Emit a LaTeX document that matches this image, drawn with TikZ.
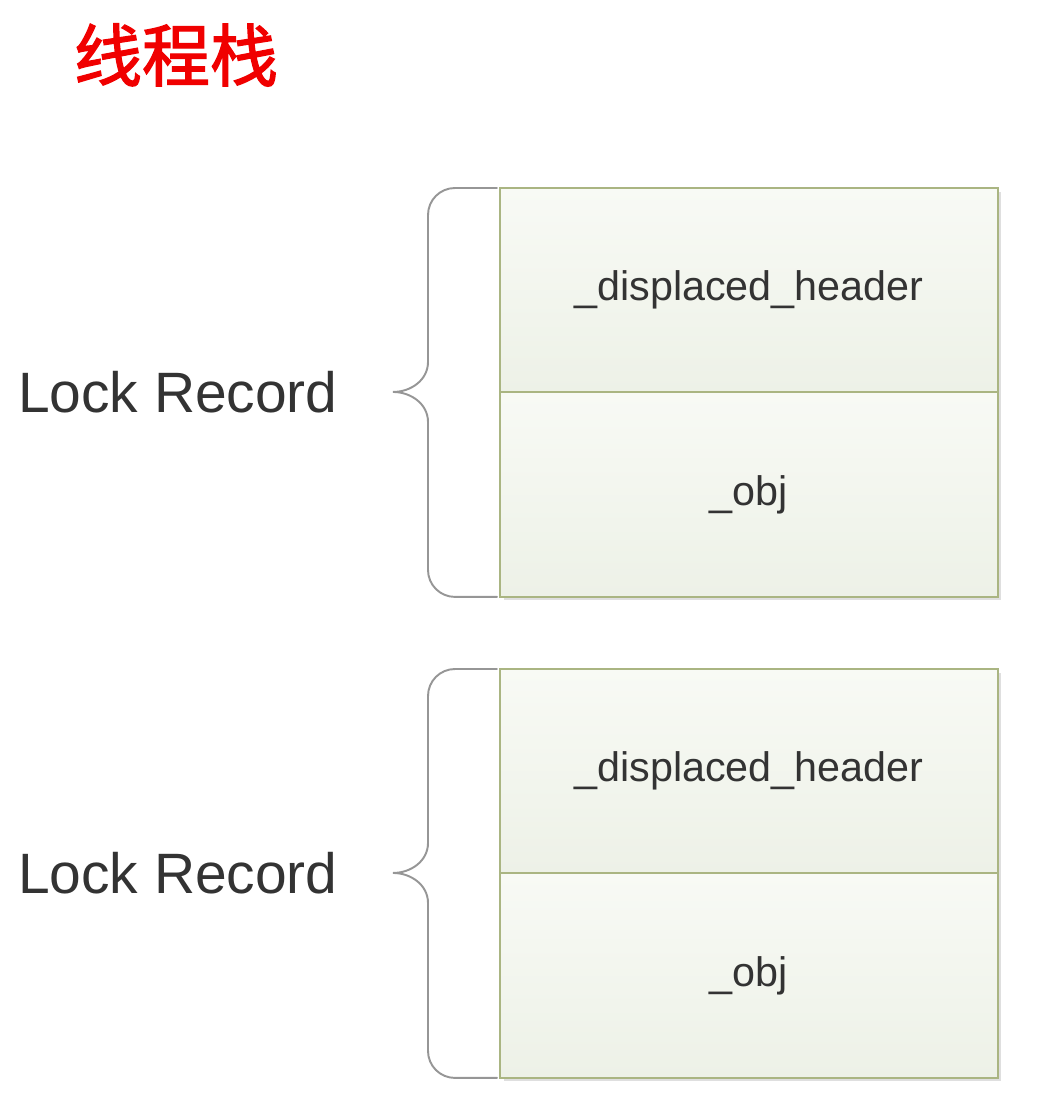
\documentclass[tikz,border=0pt]{standalone}
\usepackage{fontspec}
\setmainfont{Liberation Sans}
\newfontfamily\cjk[FakeBold=2]{Noto Sans CJK SC}
\usetikzlibrary{positioning, calc, shadows}

\definecolor{cellline}{RGB}{170,181,130}
\definecolor{celltop}{RGB}{248,250,245}
\definecolor{cellbot}{RGB}{237,241,231}
\definecolor{bracegray}{RGB}{150,150,150}
\definecolor{textgray}{RGB}{51,51,51}
\definecolor{titlered}{RGB}{240,0,0}

\begin{document}
\begin{tikzpicture}[
  x=0.02cm, y=-0.02cm,
  cell/.style={rectangle, draw=cellline, line width=1.1pt, inner sep=0pt, outer sep=0pt,
    minimum width=9.96cm, top color=celltop, bottom color=cellbot,
    drop shadow={shadow xshift=0.07cm, shadow yshift=-0.07cm, opacity=0.25},
    text=textgray, font=\fontsize{23.5}{26}\selectfont},
  hdrcell/.style={cell, minimum height=4.08cm},
  objcell/.style={cell, minimum height=4.1cm},
  reclabel/.style={inner sep=0pt, text=textgray, font=\fontsize{32.4}{36}\selectfont},
  brace/.style={draw=bracegray, line width=1.1pt, line cap=round}
]
\useasboundingbox (0,0) rectangle (1037,1095);

% title
\node (title) at (176,55) [text=titlered, font=\cjk\fontsize{38.7}{42}\selectfont] {线程栈};

% first lock record
\node (hdr1) at (500,188) [hdrcell, anchor=north west] {\_displaced\_header};
\node (obj1) [objcell, below=0pt of hdr1] {\_obj};

% second lock record
\node (hdr2) at (500,669) [hdrcell, anchor=north west] {\_displaced\_header};
\node (obj2) [objcell, below=0pt of hdr2] {\_obj};

% braces
\coordinate (tip1) at ($(hdr1.south west)+(-107,0)$);
\coordinate (tip2) at ($(hdr2.south west)+(-107,0)$);

\node (lock1) [reclabel, left=1.1cm of tip1] {Lock Record};
\node (lock2) [reclabel, left=1.1cm of tip2] {Lock Record};

\draw [brace] ($(hdr1.north west)+(-3,0)$) -- ++(-42,0) to[out=180,in=90] ++(-27,27)
  -- ($(tip1)+(35,-30)$) to[out=-90,in=0] (tip1)
  to[out=0,in=90] ($(tip1)+(35,30)$) -- ($(obj1.south west)+(-72,-27)$)
  to[out=-90,in=180] ++(27,27) -- ($(obj1.south west)+(-3,0)$);
\draw [brace] ($(hdr2.north west)+(-3,0)$) -- ++(-42,0) to[out=180,in=90] ++(-27,27)
  -- ($(tip2)+(35,-30)$) to[out=-90,in=0] (tip2)
  to[out=0,in=90] ($(tip2)+(35,30)$) -- ($(obj2.south west)+(-72,-27)$)
  to[out=-90,in=180] ++(27,27) -- ($(obj2.south west)+(-3,0)$);

\end{tikzpicture}
\end{document}
